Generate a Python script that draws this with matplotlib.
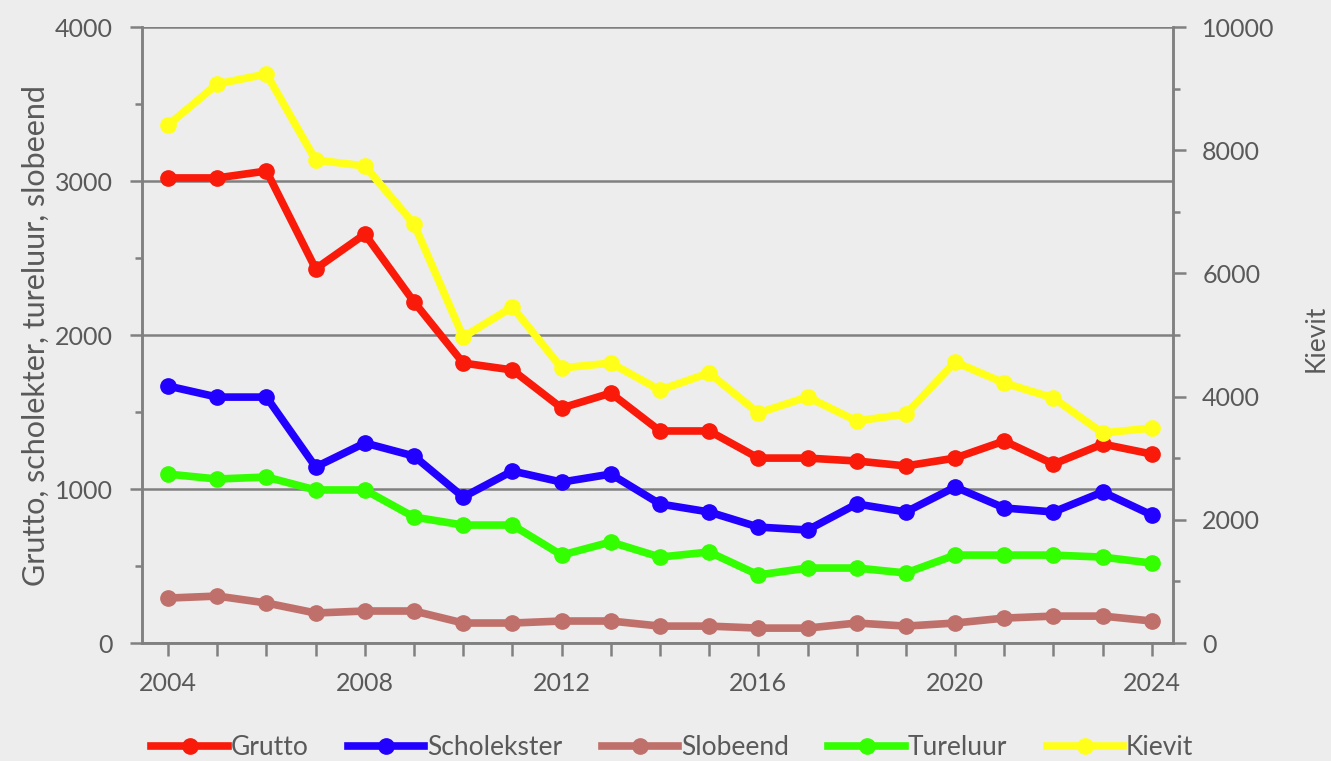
import matplotlib.pyplot as plt
from matplotlib.ticker import MultipleLocator

years = list(range(2004, 2025))
grutto = [3020, 3020, 3065, 2430, 2655, 2215, 1818, 1773, 1526, 1623, 1377,
          1377, 1201, 1201, 1182, 1150, 1201, 1312, 1162, 1292, 1227]
scholekster = [1669, 1597, 1597, 1143, 1299, 1214, 948, 1117, 1045, 1097, 903,
               851, 753, 734, 903, 851, 1013, 877, 851, 981, 831]
slobeend = [292, 305, 260, 195, 208, 208, 130, 130, 143, 143, 110,
            110, 97, 97, 130, 110, 130, 162, 175, 175, 143]
tureluur = [1097, 1065, 1078, 994, 994, 818, 766, 766, 571, 656, 558,
            591, 442, 487, 487, 455, 571, 571, 571, 558, 519]
kievit = [8409, 9075, 9237, 7841, 7744, 6802, 4968, 5455, 4464, 4545, 4107,
          4383, 3734, 3994, 3604, 3718, 4562, 4221, 3977, 3409, 3490]

plt.rcParams['font.family'] = ['Lato', 'DejaVu Sans']
grey = '#808080'
txt = '#595959'
bg = '#EDEDED'

fig = plt.figure(figsize=(13.31, 7.61), dpi=100, facecolor=bg)
ax = fig.add_axes([0.1067, 0.155, 0.7746, 0.8095], facecolor=bg)
ax2 = ax.twinx()

lw = 5.5
ms = 11
l1, = ax.plot(years, grutto, color='#FA1A0A', lw=lw, marker='o', ms=ms, label='Grutto', zorder=3)
l2, = ax.plot(years, scholekster, color='#2200FF', lw=lw, marker='o', ms=ms, label='Scholekster', zorder=3)
l3, = ax.plot(years, slobeend, color='#C0706A', lw=lw, marker='o', ms=ms, label='Slobeend', zorder=3)
l4, = ax.plot(years, tureluur, color='#33FF00', lw=lw, marker='o', ms=ms, label='Tureluur', zorder=3)
l5, = ax2.plot(years, kievit, color='#FFFF1A', lw=lw, marker='o', ms=ms, label='Kievit', zorder=3)

# secundaire as bovenop, zoals in Excel
ax.set_zorder(1)
ax2.set_zorder(2)
ax2.patch.set_visible(False)

ax.set_xlim(2003.47, 2024.43)
ax.set_ylim(0, 4000)
ax2.set_ylim(0, 10000)

ax.set_xticks(years)
ax.set_xticklabels([str(y) if y % 4 == 0 else '' for y in years])
ax.yaxis.set_major_locator(MultipleLocator(1000))
ax.yaxis.set_minor_locator(MultipleLocator(500))
ax2.yaxis.set_major_locator(MultipleLocator(2000))
ax2.yaxis.set_minor_locator(MultipleLocator(1000))

ax.grid(axis='y', color=grey, lw=1.8)
ax.set_axisbelow(True)

for a in (ax, ax2):
    for s in a.spines.values():
        s.set_color(grey)
        s.set_linewidth(1.8)
    a.spines['top'].set_visible(False)
    a.tick_params(which='both', colors=grey, labelcolor=txt, labelsize=18, width=1.8)
    a.tick_params(which='major', length=9)
    a.tick_params(which='minor', length=5)

ax.tick_params(axis='x', pad=12)
ax.tick_params(axis='y', pad=12)
ax2.tick_params(axis='y', pad=12)

ax.set_ylabel('Grutto, scholekter, tureluur, slobeend', fontsize=22, color=txt, labelpad=4)
fig.text(0.9885, 0.555, 'Kievit', rotation=90, fontsize=19, color=txt,
         ha='center', va='center')

fig.legend(handles=[l1, l2, l3, l4, l5], loc='lower center', ncol=5,
           bbox_to_anchor=(0.505, -0.03), frameon=False, fontsize=19,
           labelcolor=txt, handlelength=2.9, handletextpad=0.1, columnspacing=1.5)

fig.savefig('out.png', dpi=100, facecolor=bg)
